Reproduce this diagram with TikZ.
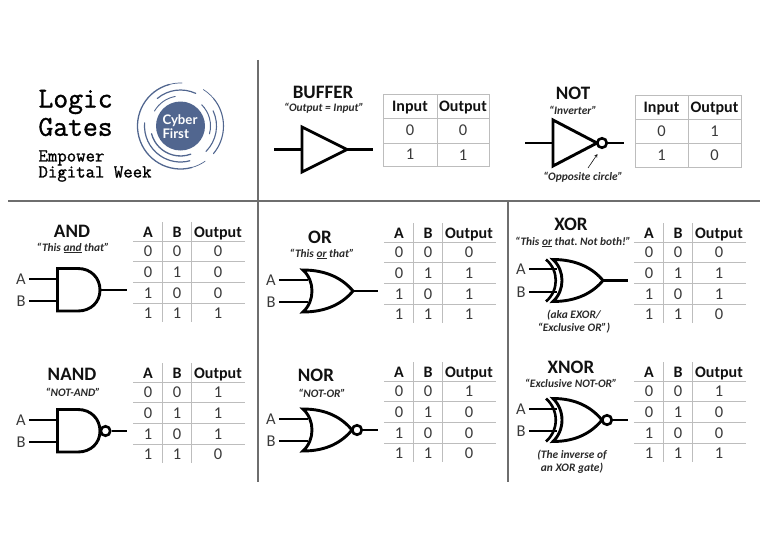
\documentclass[tikz,border=0pt]{standalone}
\usepackage{fontspec}
\setmainfont{Carlito}
\newfontfamily\logofont{Lato}
\newfontfamily\headmono[FakeBold=1.2]{Latin Modern Mono}
\definecolor{ink}{HTML}{111111}
\definecolor{digit}{HTML}{3A3A3A}
\definecolor{rule}{HTML}{BDBDBD}
\definecolor{divider}{HTML}{6E6E6E}
\definecolor{logoblue}{HTML}{51668F}
\tikzset{
  txt/.style={inner sep=0pt,outer sep=0pt,align=center,text=ink},
  gatetitle/.style={txt,font=\fontsize{19}{22}\selectfont\bfseries},
  quotetext/.style={txt,text=ink!90,font=\fontsize{11.4}{13}\selectfont\bfseries\itshape\frenchspacing},
  headcell/.style={txt,font=\fontsize{16}{18}\selectfont\bfseries},
  valcell/.style={txt,text=digit,font=\fontsize{16.5}{18}\selectfont},
  pinlabel/.style={inner sep=3.5pt,outer sep=0pt,text=digit,font=\fontsize{16.5}{18}\selectfont},
  gridline/.style={draw=rule,line width=0.8pt},
  wire/.style={draw=black,line width=2.3pt},
  gatebody/.style={draw=black,line width=2.9pt,line join=miter,fill=white},
  gateback/.style={draw=black,line width=2.6pt},
  bubble/.style={circle,draw=black,line width=2.6pt,fill=white,inner sep=0pt,minimum size=9.5pt},
  divline/.style={draw=divider,line width=1.3pt},
  titlemono/.style={inner sep=0pt,outer sep=0pt,anchor=west,text=black,font=\fontsize{28.8}{30}\selectfont\headmono},
  smallmono/.style={inner sep=0pt,outer sep=0pt,anchor=west,align=left,text=black,font=\fontsize{18.3}{16}\selectfont\headmono},
  logotext/.style={inner sep=0pt,outer sep=0pt,anchor=west,text=white,font=\fontsize{13.2}{15}\selectfont\logofont\bfseries},
  logoarc/.style={draw=logoblue,line cap=round},
}
\newcommand{\abtable}[7]{%
  \begin{scope}[shift={(#2,#3)}]
    \foreach \ly in {0,20.7,41,62} {\draw[gridline] (0,\ly) -- (112,\ly);}
    \foreach \lx in {29,58} {\draw[gridline] (\lx,-19) -- (\lx,81);}
    \node[headcell] (#1hA) at (15,-8.5) {A};
    \node[headcell] (#1hB) at (44,-8.5) {B};
    \node[headcell] (#1hO) at (85,-7.5) {Output};
    \node[valcell] (#1aa) at (15,10.5) {0}; \node[valcell] (#1ab) at (44,10.5) {0}; \node[valcell] (#1ao) at (85,10.5) {#4};
    \node[valcell] (#1ba) at (15,31) {0}; \node[valcell] (#1bb) at (44,31) {1}; \node[valcell] (#1bo) at (85,31) {#5};
    \node[valcell] (#1ca) at (15,52) {1}; \node[valcell] (#1cb) at (44,52) {0}; \node[valcell] (#1co) at (85,52) {#6};
    \node[valcell] (#1da) at (15,72.5) {1}; \node[valcell] (#1db) at (44,72.5) {1}; \node[valcell] (#1do) at (85,72.5) {#7};
  \end{scope}}
\newcommand{\iotable}[9]{%
  \draw[gridline] (#2,#5) rectangle (#4,#8);
  \draw[gridline] (#3,#5) -- (#3,#8);
  \draw[gridline] (#2,#6) -- (#4,#6);
  \draw[gridline] (#2,#7) -- (#4,#7);
  \node[headcell] (#1hI) at ({(#2+#3)/2},{(#5+#6)/2+2}) {Input};
  \node[headcell] (#1hO) at ({(#3+#4)/2},{(#5+#6)/2+2}) {Output};
  \node[valcell] (#1aa) at ({(#2+#3)/2},{(#6+#7)/2}) {0};
  \node[valcell] (#1ao) at ({(#3+#4)/2},{(#6+#7)/2}) {#9};
  \node[valcell] (#1ba) at ({(#2+#3)/2},{(#7+#8)/2}) {1};}
\newcommand{\orshape}[2]{%
  (0,-#1) .. controls (24,-#1) and ({#2-10},-12) .. (#2,0)
  .. controls ({#2-10},12) and (24,#1) .. (0,#1)
  .. controls (12,10) and (12,-10) .. cycle}
\newcommand{\xorback}[1]{\draw[gateback] (-7,-#1) .. controls (6,-10) and (6,10) .. (-7,#1);}
\begin{document}
\begin{tikzpicture}[x=1pt,y=-1pt]
\useasboundingbox (0,0) rectangle (768,543);

\coordinate (d1a) at (258,60); \coordinate (d1b) at (258,482);
\coordinate (d2a) at (508,201); \coordinate (d2b) at (508,482);
\coordinate (d3a) at (8,201); \coordinate (d3b) at (760,201);
\draw[divline] (d1a) -- (d1b);
\draw[divline] (d2a) -- (d2b);
\draw[divline] (d3a) -- (d3b);

\node[titlemono] (h1) at (38.5,102) {Logic};
\node[titlemono] (h2) at (38.5,127) {Gates};
\node[smallmono] (h3) at (38.5,166) {Empower\\Digital Week};

\coordinate (lg) at (180.5,126);
\fill[logoblue] (lg) circle[radius=24.5pt];
\node[logotext] (lg1) at (162.5,121) {Cyber};
\node[logotext] (lg2) at (162.5,133.5) {First};
\draw[logoarc,line width=1.3pt] (lg) ++(105:43pt) arc[start angle=105,end angle=285,radius=43pt];
\draw[logoarc,line width=0.7pt] (lg) ++(88:43pt) arc[start angle=88,end angle=105,radius=43pt];
\draw[logoarc,line width=1.1pt] (lg) ++(-40:43pt) arc[start angle=-40,end angle=40,radius=43pt];
\draw[logoarc,line width=0.7pt] (lg) ++(285:43pt) arc[start angle=285,end angle=305,radius=43pt];
\draw[logoarc,line width=0.7pt] (lg) ++(40:43pt) arc[start angle=40,end angle=58,radius=43pt];
\draw[logoarc,line width=1.2pt] (lg) ++(65:36pt) arc[start angle=65,end angle=130,radius=36pt];
\draw[logoarc,line width=1.2pt] (lg) ++(175:36pt) arc[start angle=175,end angle=285,radius=36pt];
\draw[logoarc,line width=1.1pt] (lg) ++(-45:36pt) arc[start angle=-45,end angle=25,radius=36pt];
\draw[logoarc,line width=1.3pt] (lg) ++(195:30pt) arc[start angle=195,end angle=290,radius=30pt];
\draw[logoarc,line width=1pt] (lg) ++(-15:30pt) arc[start angle=-15,end angle=45,radius=30pt];
\draw[logoarc,line width=0.9pt] (lg) ++(100:30pt) arc[start angle=100,end angle=150,radius=30pt];

% BUFFER
\node[gatetitle] (buft) at (323,92) {BUFFER};
\node[quotetext] (bufq) at (324,108) {“Output = Input”};
\coordinate (bufin) at (274,149.5); \coordinate (bufl) at (302,149.5);
\coordinate (bufr) at (347,149.5); \coordinate (bufout) at (373,149.5);
\draw[wire] (bufin) -- (bufl);
\draw[wire] (bufr) -- (bufout);
\draw[gatebody] (302,127) -- (bufr) -- (302,172) -- cycle;
\iotable{buf}{383}{437}{489}{94}{118}{143}{166}{0}
\node[valcell] (bufbo) at (463,155) {1};

% NOT
\node[gatetitle] (nott) at (573,93) {NOT};
\node[quotetext] (notq) at (573,110) {“Inverter”};
\coordinate (notin) at (525,143); \coordinate (notl) at (553,143);
\coordinate (notr) at (597,143); \coordinate (notout) at (624,143);
\draw[wire] (notin) -- (notl);
\draw[gatebody] (553,120) -- (notr) -- (553,166) -- cycle;
\node[bubble] (notb) at (602,143) {};
\draw[wire] (notb) -- (notout);
\node[quotetext] (notc) at (583,177) {“Opposite circle”};
\coordinate (notaa) at (588,168); \coordinate (notab) at (597.5,154);
\draw[-stealth,line width=0.6pt,ink] (notaa) -- (notab);
\iotable{not}{635}{688}{741}{95}{119}{143}{167}{1}
\node[valcell] (notbo) at (714.5,155) {0};

% AND
\node[gatetitle] (andt) at (72,231) {AND};
\node[quotetext] (andq) at (73,248) {“This \underline{and} that”};
\node[pinlabel] (andA) at (21,279) {A};
\node[pinlabel] (andB) at (21,301) {B};
\coordinate (anda) at (58,279); \coordinate (andb) at (58,301);
\coordinate (andr) at (100,290); \coordinate (andout) at (127,290);
\draw[wire] (andA) -- (anda);
\draw[wire] (andB) -- (andb);
\draw[wire] (andr) -- (andout);
\draw[gatebody] (57.5,268.5) -- (78,268.5) .. controls (91,268.5) and (100,278) .. (andr) .. controls (100,302) and (91,311) .. (78,311) -- (57.5,311) -- cycle;
\abtable{and}{133}{241}{0}{0}{0}{1}

% NAND
\node[gatetitle] (nandt) at (72,374) {NAND};
\node[quotetext] (nandq) at (73,392) {“NOT-AND”};
\node[pinlabel] (nandA) at (21,420) {A};
\node[pinlabel] (nandB) at (21,442) {B};
\coordinate (nanda) at (58,420); \coordinate (nandb) at (58,442);
\coordinate (nandr) at (100,431); \coordinate (nandout) at (127,431);
\draw[wire] (nandA) -- (nanda);
\draw[wire] (nandB) -- (nandb);
\draw[gatebody] (57.5,409.5) -- (78,409.5) .. controls (91,409.5) and (100,419) .. (nandr) .. controls (100,443) and (91,452) .. (78,452) -- (57.5,452) -- cycle;
\node[bubble] (nandc) at (105.5,431) {};
\draw[wire] (nandc) -- (nandout);
\abtable{nand}{133}{382}{1}{1}{1}{0}

% OR
\node[gatetitle] (ort) at (320,237) {OR};
\node[quotetext] (orq) at (322,254) {“This \underline{or} that”};
\node[pinlabel] (orA) at (271,280) {A};
\node[pinlabel] (orB) at (271,302) {B};
\coordinate (ora) at (308,280); \coordinate (orb) at (308,302);
\coordinate (orr) at (353,291); \coordinate (orout) at (378,291);
\draw[wire] (orA) -- (ora);
\draw[wire] (orB) -- (orb);
\draw[wire] (orr) -- (orout);
\begin{scope}[shift={(303,291)}]
  \draw[gatebody] \orshape{21}{50};
\end{scope}
\abtable{or}{384}{242}{0}{1}{1}{1}

% NOR
\node[gatetitle] (nort) at (316,375) {NOR};
\node[quotetext] (norq) at (322,393) {“NOT-OR”};
\node[pinlabel] (norA) at (271,419) {A};
\node[pinlabel] (norB) at (271,441) {B};
\coordinate (nora) at (308,419); \coordinate (norb) at (308,441);
\coordinate (norout) at (378,430);
\draw[wire] (norA) -- (nora);
\draw[wire] (norB) -- (norb);
\begin{scope}[shift={(303,430)}]
  \draw[gatebody] \orshape{21}{49};
\end{scope}
\node[bubble] (norc) at (357,430) {};
\draw[wire] (norc) -- (norout);
\abtable{nor}{384}{381}{1}{0}{0}{0}

% XOR
\node[gatetitle] (xort) at (571,224) {XOR};
\node[quotetext] (xorq) at (573,242) {“This \underline{or} that. Not both!”};
\node[pinlabel] (xorA) at (521,269) {A};
\node[pinlabel] (xorB) at (521,292) {B};
\coordinate (xora) at (557,269); \coordinate (xorb) at (557,292);
\coordinate (xorr) at (603,280.5); \coordinate (xorout) at (628,280.5);
\draw[wire] (xorA) -- (xora);
\draw[wire] (xorB) -- (xorb);
\draw[wire] (xorr) -- (xorout);
\begin{scope}[shift={(553,280.5)}]
  \xorback{21}
  \draw[gatebody] \orshape{21}{50};
\end{scope}
\node[quotetext] (xorn) at (574,321.5) {(aka EXOR/\\“Exclusive OR”)};
\abtable{xor}{634}{242}{0}{1}{1}{0}

% XNOR
\node[gatetitle] (xnort) at (571,367) {XNOR};
\node[quotetext] (xnorq) at (571,383) {“Exclusive NOT-OR”};
\node[pinlabel] (xnorA) at (521,409) {A};
\node[pinlabel] (xnorB) at (521,431) {B};
\coordinate (xnora) at (557,409); \coordinate (xnorb) at (557,431);
\coordinate (xnorout) at (628,420);
\draw[wire] (xnorA) -- (xnora);
\draw[wire] (xnorB) -- (xnorb);
\begin{scope}[shift={(553,420)}]
  \xorback{21.5}
  \draw[gatebody] \orshape{21.5}{49};
\end{scope}
\node[bubble] (xnorc) at (607,420) {};
\draw[wire] (xnorc) -- (xnorout);
\node[quotetext] (xnorn) at (572,461.5) {(The inverse of\\an XOR gate)};
\abtable{xnor}{634}{381}{1}{0}{0}{1}
\end{tikzpicture}
\end{document}
